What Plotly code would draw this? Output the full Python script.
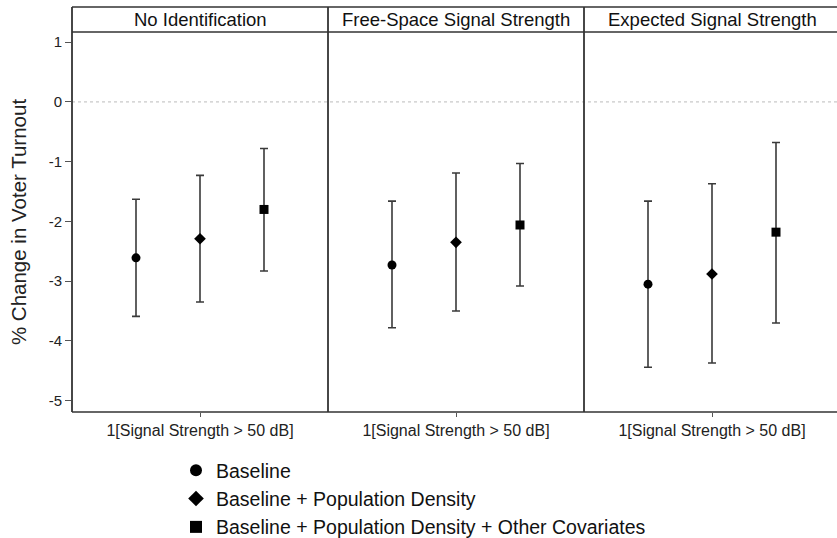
import plotly.graph_objects as go

panels = ["No Identification", "Free-Space Signal Strength", "Expected Signal Strength"]
series = ["Baseline", "Baseline + Population Density", "Baseline + Population Density + Other Covariates"]
symbols = ["circle", "diamond", "square"]
msizes = [9, 9, 9]
tick_label = "1[Signal Strength > 50 dB]"
y_ticks = [1, 0, -1, -2, -3, -4, -5]

# estimates [panel][series]
est = [[-2.61, -2.29, -1.80],
       [-2.73, -2.35, -2.06],
       [-3.05, -2.88, -2.18]]
ci_hi = [[-1.63, -1.23, -0.78],
         [-1.66, -1.19, -1.03],
         [-1.66, -1.37, -0.68]]
ci_lo = [[-3.59, -3.35, -2.83],
         [-3.78, -3.50, -3.08],
         [-4.44, -4.37, -3.70]]
x_pos = [0.25, 0.5, 0.75]

W, H = 837, 538
ml, mr, mt, mb = 72, 0, 32, 126
pw = W - ml - mr
ph = H - mt - mb
FONT = "Liberation Sans, Arial, Helvetica, sans-serif"
LC = "#333333"

fig = go.Figure()
doms = [[0, 256 / pw], [256 / pw, 512 / pw], [512 / pw, 1]]
for p in range(3):
    ax = "" if p == 0 else str(p + 1)
    for s in range(3):
        e = est[p][s]
        fig.add_trace(go.Scatter(
            x=[x_pos[s]], y=[e], mode="markers",
            marker=dict(symbol=symbols[s], size=msizes[s], color="black"),
            error_y=dict(type="data", symmetric=False,
                         array=[ci_hi[p][s] - e], arrayminus=[e - ci_lo[p][s]],
                         color="#3a3a3a", thickness=1.6, width=4),
            name=series[s], legendgroup=series[s], showlegend=(p == 0),
            xaxis="x" + ax, yaxis="y" + ax,
        ))

layout = dict(
    width=W, height=H, plot_bgcolor="white", paper_bgcolor="white",
    margin=dict(l=ml, r=mr, t=mt, b=mb, autoexpand=False),
    font=dict(family=FONT, color="#222"),
    showlegend=True,
    legend=dict(x=(176 - ml) / pw, y=-(451 - (mt + ph)) / ph, xanchor="left", yanchor="top",
                font=dict(size=19.5, family=FONT, color="#111"),
                itemsizing="constant", tracegroupgap=0,
                bgcolor="rgba(0,0,0,0)"),
)
for p in range(3):
    ax = "" if p == 0 else str(p + 1)
    rng_hi = 1.0 if p < 2 else (pw - 512) / 256
    layout["xaxis" + ax] = dict(
        domain=doms[p], range=[0, rng_hi], anchor="y" + ax,
        tickvals=[0.5], ticktext=[tick_label], ticks="outside", ticklen=4,
        tickcolor="#555", tickfont=dict(size=16, family=FONT, color="#222"),
        showgrid=False, zeroline=False, showline=False, fixedrange=True,
    )
    ydict = dict(
        domain=[0, 1], range=[-5.19, 1.17], anchor="x" + ax,
        showgrid=False, zeroline=False, showline=False,
    )
    if p == 0:
        ydict.update(tickvals=y_ticks, ticktext=[str(v) for v in y_ticks],
                     ticks="outside", ticklen=6, tickcolor="#555",
                     tickfont=dict(size=15, family=FONT, color="#222"),
                     title=dict(text="% Change in Voter Turnout",
                                font=dict(size=20.5, family=FONT, color="#222"),
                                standoff=16))
    else:
        ydict.update(matches="y", showticklabels=False, ticks="")
    layout["yaxis" + ax] = ydict

strip_top = 1 + (mt - 7) / ph
shapes = []
# zero line
shapes.append(dict(type="line", xref="paper", yref="y", x0=0, x1=1, y0=0, y1=0,
                   line=dict(color="#bbbbbb", width=1, dash="dot")))
# frame lines
shapes.append(dict(type="line", xref="paper", yref="paper", x0=0, x1=1, y0=strip_top, y1=strip_top,
                   line=dict(color=LC, width=1.5)))
shapes.append(dict(type="line", xref="paper", yref="paper", x0=0, x1=1, y0=1, y1=1,
                   line=dict(color=LC, width=1.5)))
shapes.append(dict(type="line", xref="paper", yref="paper", x0=0, x1=1, y0=0, y1=0,
                   line=dict(color=LC, width=1.5)))
for xv in [0, 256 / pw, 512 / pw]:
    shapes.append(dict(type="line", xref="paper", yref="paper", x0=xv, x1=xv, y0=0, y1=strip_top,
                       line=dict(color=LC, width=1.8)))
layout["shapes"] = shapes

annotations = []
for p in range(3):
    cx = (ml + 128 + 256 * p - ml) / pw
    annotations.append(dict(xref="paper", yref="paper", x=cx, y=1 + (mt - 19.5) / ph,
                            text=panels[p], showarrow=False, xanchor="center", yanchor="middle",
                            font=dict(size=18.5, family=FONT, color="#111")))
layout["annotations"] = annotations

fig.update_layout(**layout)
fig.write_html("out.html")
